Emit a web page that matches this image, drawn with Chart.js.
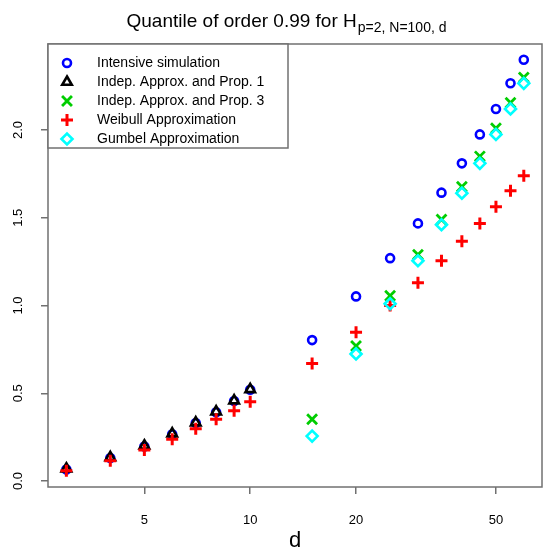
<!DOCTYPE html>
<html>
<head>
<meta charset="utf-8">
<script src="https://cdn.jsdelivr.net/npm/chart.js@4.4.1/dist/chart.umd.min.js"></script>
<style>
  html, body { margin: 0; padding: 0; background: #fff; }
  #wrap { width: 543px; height: 554px; }
</style>
</head>
<body>
<div id="wrap"><canvas id="quantileChart" width="543" height="554"></canvas></div>
<script>
// dimension d (log axis) and the 0.99 quantile from each method
const dSmall = [3, 4, 5, 6, 7, 8, 9, 10];
const dLarge = [15, 20, 25, 30, 35, 40, 45, 50, 55, 60];
const dAll = dSmall.concat(dLarge);

const intensiveSim = [0.066, 0.131, 0.197, 0.266, 0.330, 0.392, 0.456, 0.520,
  0.803, 1.052, 1.270, 1.468, 1.643, 1.810, 1.975, 2.120, 2.266, 2.400];
const indepProp1 = [0.070, 0.135, 0.201, 0.270, 0.333, 0.395, 0.458, 0.522];
const indepProp3 = [0.352, 0.769, 1.056, 1.290, 1.490, 1.677, 1.850, 2.010, 2.155, 2.300];
const weibullApprox = [0.059, 0.116, 0.177, 0.238, 0.298, 0.352, 0.400, 0.452,
  0.670, 0.847, 1.000, 1.130, 1.255, 1.366, 1.468, 1.563, 1.654, 1.740];
const gumbelApprox = [0.256, 0.724, 1.010, 1.255, 1.460, 1.640, 1.810, 1.975, 2.120, 2.266];

const xTicks = [5, 10, 20, 50];
const yTicks = [0, 0.5, 1, 1.5, 2];

const FONT = '"Liberation Sans", Arial, Helvetica, sans-serif';

function toPoints(xs, ys) {
  return ys.map((y, i) => ({ x: xs[i], y }));
}

function series(label, xs, ys, style, color, radius, width, order) {
  return {
    label,
    data: toPoints(xs, ys),
    showLine: false,
    pointStyle: style,
    pointRadius: radius,
    pointHoverRadius: radius,
    pointBorderWidth: width,
    pointBorderColor: color,
    pointBackgroundColor: 'rgba(0,0,0,0)',
    borderColor: color,
    order,
  };
}

const datasets = [
  series('Intensive simulation', dAll, intensiveSim, 'circle', '#0000ff', 4, 2.6, 4),
  series('Indep. Approx. and Prop. 1', dSmall, indepProp1, 'triangle', '#000000', 5.5, 2.6, 3),
  series('Indep. Approx. and Prop. 3', dLarge, indepProp3, 'crossRot', '#00cd00', 7, 2.8, 2),
  series('Weibull Approximation', dAll, weibullApprox, 'cross', '#ff0000', 6, 3, 1),
  series('Gumbel Approximation', dLarge, gumbelApprox, 'rectRot', '#00ffff', 5.5, 2.6, 0),
];

// box, rotated y labels, title, axis label and legend, drawn R-style
const rDecor = {
  id: 'rDecor',
  afterDraw(chart) {
    const { ctx, chartArea: a, scales } = chart;
    ctx.save();

    ctx.strokeStyle = '#707070';
    ctx.lineWidth = 1.5;
    ctx.strokeRect(a.left, a.top, a.right - a.left, a.bottom - a.top);

    ctx.fillStyle = '#000';
    ctx.font = '13px ' + FONT;
    ctx.textAlign = 'center';
    ctx.textBaseline = 'middle';
    yTicks.forEach((v) => {
      const y = scales.y.getPixelForValue(v);
      ctx.save();
      ctx.translate(18, y);
      ctx.rotate(-Math.PI / 2);
      ctx.fillText(v.toFixed(1), 0, 0);
      ctx.restore();
    });

    ctx.font = '22px ' + FONT;
    ctx.fillText('d', (a.left + a.right) / 2, 541);

    // main title with plotmath-like subscript
    const main = 'Quantile of order 0.99 for H';
    const sub = 'p=2, N=100, d';
    ctx.font = '19px ' + FONT;
    const w1 = ctx.measureText(main).width;
    ctx.font = '14px ' + FONT;
    const w2 = ctx.measureText(sub).width;
    const x0 = 286 - (w1 + w2) / 2;
    ctx.textAlign = 'left';
    ctx.textBaseline = 'alphabetic';
    ctx.font = '19px ' + FONT;
    ctx.fillText(main, x0, 27);
    ctx.font = '14px ' + FONT;
    ctx.fillText(sub, x0 + w1 + 1, 32);

    // legend
    ctx.fillStyle = '#fff';
    ctx.fillRect(a.left, a.top, 240, 104);
    ctx.strokeStyle = '#707070';
    ctx.lineWidth = 1.5;
    ctx.strokeRect(a.left, a.top, 240, 104);
    ctx.font = '14px ' + FONT;
    ctx.textBaseline = 'middle';
    datasets.forEach((ds, i) => {
      const y = 63 + i * 19;
      ctx.strokeStyle = ds.pointBorderColor;
      ctx.fillStyle = 'rgba(0,0,0,0)';
      ctx.lineWidth = ds.pointBorderWidth;
      Chart.helpers.drawPoint(ctx, {
        pointStyle: ds.pointStyle,
        radius: ds.pointRadius,
        rotation: 0,
        borderWidth: ds.pointBorderWidth,
      }, 67, y);
      ctx.fillStyle = '#000';
      ctx.fillText(ds.label, 97, y);
    });

    ctx.restore();
  },
};

new Chart(document.getElementById('quantileChart'), {
  type: 'scatter',
  data: { datasets },
  plugins: [rDecor],
  options: {
    responsive: false,
    animation: false,
    events: [],
    layout: { autoPadding: false, padding: { top: 44, right: 1, left: 0, bottom: 0 } },
    plugins: { legend: { display: false }, tooltip: { enabled: false }, title: { display: false } },
    scales: {
      x: {
        type: 'logarithmic',
        min: 2.66,
        max: 67.6,
        afterBuildTicks: (s) => { s.ticks = xTicks.map((v) => ({ value: v })); },
        afterFit: (s) => {
          s.height = 67;
          s.paddingLeft = 0;
          s.paddingRight = 0;
        },
        ticks: {
          autoSkip: false,
          maxRotation: 0,
          padding: 19,
          color: '#000',
          font: { family: FONT, size: 13 },
          callback: (v) => String(v),
        },
        grid: { drawOnChartArea: false, drawTicks: true, tickLength: 7, color: '#707070', lineWidth: 1.5 },
        border: { display: false },
      },
      y: {
        min: -0.034,
        max: 2.49,
        afterBuildTicks: (s) => { s.ticks = yTicks.map((v) => ({ value: v })); },
        afterFit: (s) => {
          s.width = 48;
          s.paddingTop = 0;
          s.paddingBottom = 0;
        },
        ticks: { display: false },
        grid: { drawOnChartArea: false, drawTicks: true, tickLength: 7, color: '#707070', lineWidth: 1.5 },
        border: { display: false },
      },
    },
  },
});
</script>
</body>
</html>
